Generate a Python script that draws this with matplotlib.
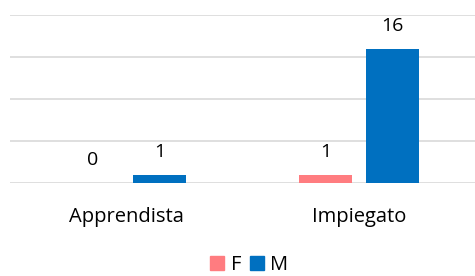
import matplotlib.pyplot as plt
import numpy as np
from matplotlib.patches import Patch

categories = ["Apprendista", "Impiegato"]
series_names = ["F", "M"]
values_f = [0, 1]
values_m = [1, 16]

COLORS = {"F": "#FF7C80", "M": "#0070C0"}

plt.rcParams["font.family"] = ["Open Sans", "DejaVu Sans"]

fig = plt.figure(figsize=(4.75, 2.76), dpi=100)
ax = fig.add_axes([0.021, 0.337, 0.979, 0.609])

x = np.arange(len(categories))
width = 0.228
offset = 0.144

bars_f = ax.bar(x - offset, values_f, width, color=COLORS["F"], zorder=3)
bars_m = ax.bar(x + offset, values_m, width, color=COLORS["M"], zorder=3)

for bars, vals in [(bars_f, values_f), (bars_m, values_m)]:
    for b, v in zip(bars, vals):
        ax.annotate(str(v), (b.get_x() + b.get_width() / 2, v),
                    xytext=(0, 16.5), textcoords="offset points",
                    ha="center", va="center", fontsize=14, color="#000000")

ax.set_xlim(-0.5, 1.5)
ax.set_ylim(0, 20)
ax.set_yticks([0, 5, 10, 15, 20])
ax.yaxis.grid(True, color="#D9D9D9", lw=1.2, zorder=0)
ax.tick_params(axis="y", left=False, labelleft=False)
ax.set_xticks(x)
ax.set_xticklabels(categories, fontsize=14.5)
ax.tick_params(axis="x", length=0, pad=17)
for s in ax.spines.values():
    s.set_visible(False)

handles = [Patch(color=COLORS[n], label=n) for n in series_names]
fig.legend(handles=handles, loc="center", bbox_to_anchor=(0.525, 0.04),
           ncol=2, frameon=False, fontsize=14.5, handlelength=0.7,
           handleheight=0.7, handletextpad=0.3, columnspacing=0.45,
           borderpad=0.1)

fig.savefig("out.png", dpi=100)
